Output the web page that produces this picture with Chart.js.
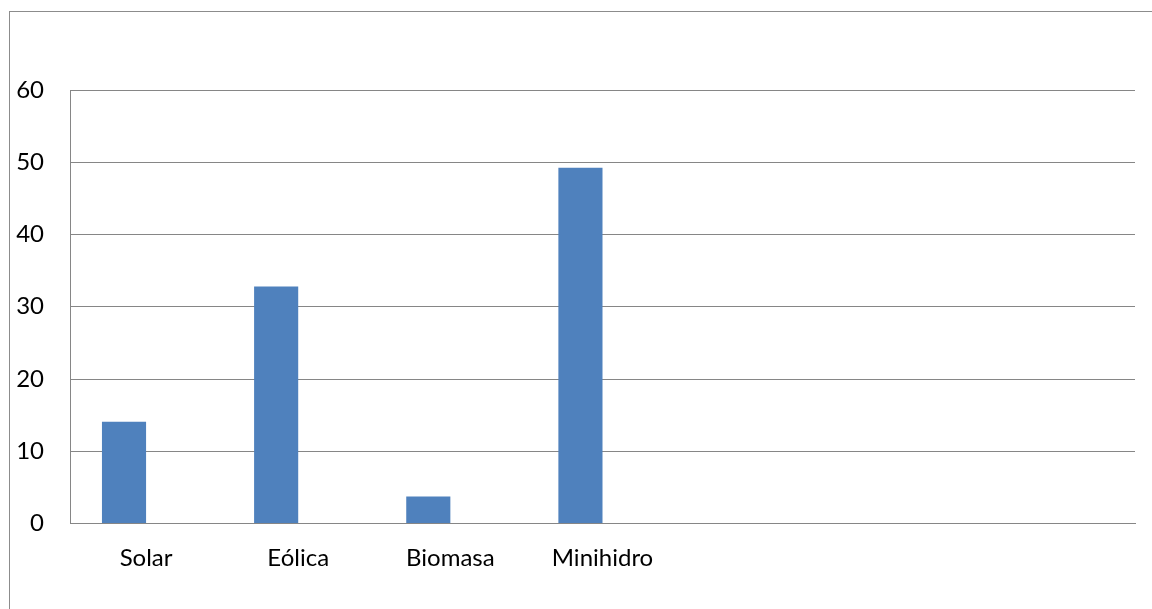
<!DOCTYPE html>
<html><head><meta charset="utf-8">
<script src="https://cdn.jsdelivr.net/npm/chart.js@4"></script>
<style>
html,body{margin:0;padding:0;background:#fff;overflow:hidden}
#wrap{position:relative;width:1152px;height:609px;overflow:hidden}
#frame{position:absolute;left:9px;top:11px;width:2000px;height:2000px;border-left:1px solid #8c8c8c;border-top:1px solid #8c8c8c}
canvas{position:absolute;left:0;top:0}
</style></head>
<body><div id="wrap"><div id="frame"></div><canvas id="c" width="1152" height="609"></canvas></div>
<script>
const categories = ['Solar', 'Eólica', 'Biomasa', 'Minihidro', '', '', ''];
const seriesValues = [14.1, 32.8, 3.74, 49.25, null, null, null];
const emptySeries = [null, null, null, null, null, null, null];
const yTicks = [0, 10, 20, 30, 40, 50, 60];

const gridColor = '#868686';
const font = {family: 'Lato', size: 24};

new Chart(document.getElementById('c'), {
  type: 'bar',
  data: {
    labels: categories,
    datasets: [
      {label: 'Serie 1', data: seriesValues, backgroundColor: '#4f81bd', categoryPercentage: 0.58, barPercentage: 1},
      {label: 'Serie 2', data: emptySeries, backgroundColor: '#c0504d', categoryPercentage: 0.58, barPercentage: 1}
    ]
  },
  options: {
    responsive: false,
    animation: false,
    devicePixelRatio: 1,
    layout: {padding: {left: 0, right: 17, top: 90, bottom: 0}},
    plugins: {legend: {display: false}, tooltip: {enabled: false}},
    scales: {
      y: {
        min: yTicks[0], max: yTicks[yTicks.length - 1],
        afterBuildTicks: s => { s.ticks = yTicks.map(v => ({value: v})); },
        afterFit: s => { s.width = 70; },
        ticks: {color: '#000', font: font, padding: 26},
        grid: {color: gridColor, lineWidth: 1, drawTicks: false},
        border: {display: true, color: gridColor, width: 1}
      },
      x: {
        afterFit: s => { s.height = 85.5; },
        ticks: {color: '#000', font: font, padding: 20, maxRotation: 0, autoSkip: false},
        grid: {display: false, drawTicks: false},
        border: {display: true, color: gridColor, width: 1}
      }
    }
  }
});
</script>
</body></html>
